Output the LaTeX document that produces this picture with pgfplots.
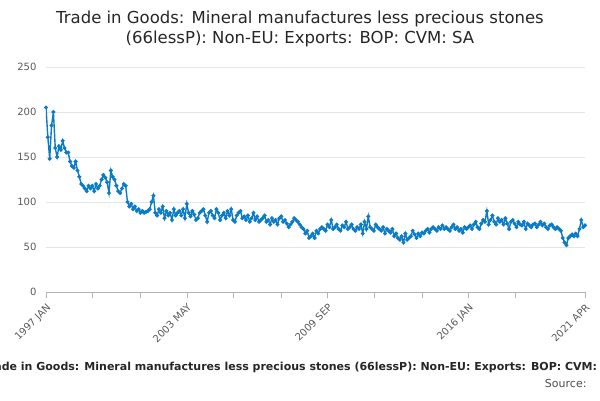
\documentclass[border=0pt]{standalone}
\usepackage{pgfplots}
\pgfplotsset{compat=1.18}
\usepackage{pgfplotstable}
\usepackage{fontspec}
\setmainfont{DejaVu Sans}
\definecolor{ln}{HTML}{0A7BC4}
\pgfplotstableread[row sep=\\]{
v\\
205\\172\\148\\185\\200\\160\\150\\162\\158\\168\\160\\155\\
155\\145\\140\\138\\145\\135\\128\\120\\118\\115\\112\\118\\
115\\118\\112\\120\\115\\118\\125\\130\\127\\122\\110\\135\\
128\\125\\118\\112\\110\\115\\120\\118\\100\\95\\98\\92\\
95\\90\\92\\88\\90\\88\\89\\90\\92\\100\\107\\88\\
85\\92\\88\\95\\82\\90\\85\\88\\80\\92\\85\\88\\
90\\85\\92\\82\\98\\88\\84\\90\\86\\80\\82\\88\\
90\\92\\85\\78\\88\\90\\85\\82\\92\\88\\80\\85\\
88\\82\\90\\85\\92\\80\\78\\85\\88\\90\\82\\84\\
80\\85\\78\\82\\88\\80\\84\\78\\80\\82\\85\\78\\
80\\75\\82\\78\\80\\75\\82\\84\\78\\80\\76\\72\\
75\\78\\82\\80\\78\\75\\72\\70\\65\\68\\60\\62\\
65\\60\\68\\65\\70\\72\\70\\68\\75\\72\\80\\70\\
72\\75\\70\\68\\74\\72\\78\\70\\72\\75\\70\\68\\
72\\70\\75\\65\\78\\70\\84\\72\\70\\68\\75\\72\\
70\\68\\72\\65\\70\\68\\66\\70\\62\\65\\60\\58\\
62\\55\\65\\58\\60\\62\\68\\64\\60\\65\\62\\66\\
65\\68\\70\\66\\70\\72\\70\\68\\72\\70\\74\\70\\
72\\70\\68\\72\\75\\70\\72\\68\\70\\66\\72\\70\\
72\\74\\70\\75\\78\\72\\70\\76\\80\\78\\90\\75\\
80\\85\\78\\75\\82\\78\\80\\75\\82\\76\\70\\78\\
80\\76\\72\\78\\75\\74\\78\\70\\76\\74\\72\\75\\
76\\72\\75\\78\\74\\76\\72\\70\\74\\75\\72\\70\\
72\\70\\68\\60\\55\\52\\60\\62\\64\\62\\65\\62\\
70\\80\\72\\74\\
}\data
\begin{document}
\begin{tikzpicture}[x=1pt,y=1pt]
\clip (0,0) rectangle (600,400);
\path[use as bounding box] (0,0) rectangle (600,400);
\node[font=\fontsize{16.5}{20}\selectfont,color=black!85,align=center] at (300,371) {Trade in Goods: Mineral manufactures less precious stones\\(66lessP): Non-EU: Exports: BOP: CVM: SA};
\begin{axis}[at={(46pt,108pt)},anchor=south west,scale only axis,width=539pt,height=225pt,
 xmin=0,xmax=291,ymin=0,ymax=250,
 axis y line=left, axis x line=bottom, y axis line style={draw=none},
 x axis line style={draw=gray!60,-},
 ytick={0,50,...,250}, ymajorgrids, grid style={gray!20},
 major y tick style={draw=none},
 xtick={0,76,152,228,291}, xticklabels={1997 JAN,2003 MAY,2009 SEP,2016 JAN,2021 APR},
 minor xtick={25,51,101,127,177,203,253},
 x tick style={gray!60}, tick align=outside, major tick length=6pt, minor tick length=6pt,
 xticklabel style={rotate=45,anchor=north east,font=\fontsize{10}{12}\selectfont,color=black!65},
 yticklabel style={font=\fontsize{10}{12}\selectfont,color=black!65},
 /pgf/number format/assume math mode=true]
\addplot[ln,line width=1.4pt,mark=*,mark size=1.2pt] table[x expr=\coordindex,y index=0] {\data};
\end{axis}
\node[font=\fontsize{11}{13}\selectfont\bfseries,color=black!85] at (300,33) {Trade in Goods: Mineral manufactures less precious stones (66lessP): Non-EU: Exports: BOP: CVM: SA};
\node[font=\fontsize{11}{13}\selectfont,color=black!70,anchor=east] at (590,17) {Source:};
\end{tikzpicture}
\end{document}
